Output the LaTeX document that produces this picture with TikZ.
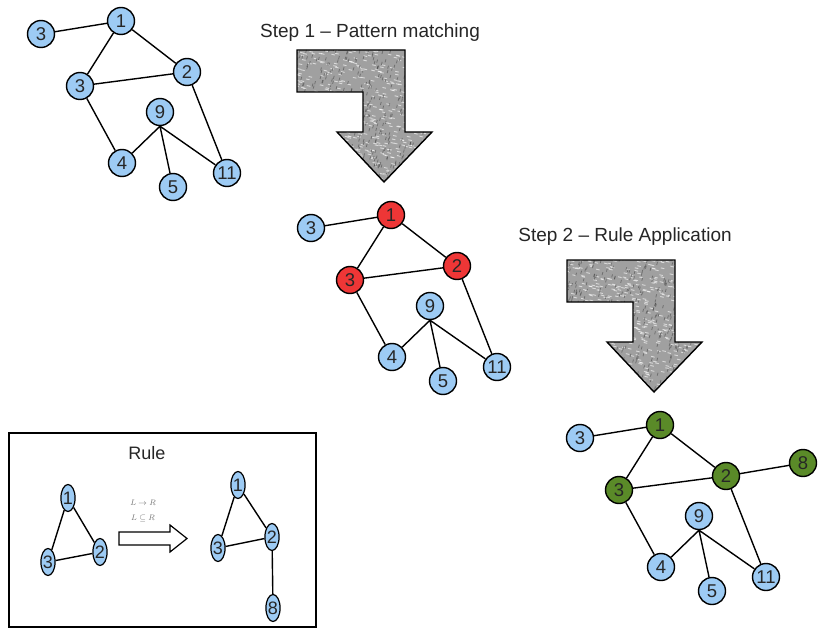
\documentclass[tikz,border=0pt]{standalone}
\usepackage{fontspec}
\setmainfont{Liberation Sans}
\usetikzlibrary{shapes.geometric}

\definecolor{vblue}{HTML}{9DCBF4}
\definecolor{vred}{HTML}{EE3636}
\definecolor{vgreen}{HTML}{5A8A28}
\definecolor{vtext}{HTML}{262626}
\definecolor{stepgray}{HTML}{A0A0A0}

\tikzset{
  vtx/.style={circle, draw=black, line width=1.4pt, fill=vblue, minimum size=27pt,
    inner sep=0pt, text=vtext, font=\fontsize{18.5}{18.5}\selectfont},
  matched/.style={fill=vred},
  applied/.style={fill=vgreen},
  edge/.style={draw=black, line width=1.4pt},
  rulevtx/.style={ellipse, draw=black, line width=1.2pt, fill=vblue, minimum width=14pt,
    minimum height=27pt, inner sep=0pt, text=vtext, font=\fontsize{18}{18}\selectfont},
  caption/.style={font=\fontsize{19}{22}\selectfont, text=vtext},
  stepshape/.style={draw=black, line width=1.4pt, line join=miter}
}

% one graph; #1 is the style of the three highlighted vertices
\newcommand\netgraph[1]{%
  \node[vtx] (a3) at (41,34) {3};
  \node[vtx,#1] (a1) at (121,21) {1};
  \node[vtx,#1] (b3) at (80,86) {3};
  \node[vtx,#1] (a2) at (187,72) {2};
  \node[vtx] (a9) at (160,112) {9};
  \node[vtx] (a4) at (122,163) {4};
  \node[vtx] (a5) at (173,187) {5};
  \node[vtx] (a11) at (227,173) {11};
  \draw[edge] (a3) -- (a1) (a1) -- (b3) (a1) -- (a2) (b3) -- (a2) (b3) -- (a4)
    (a2) -- (a11) (a9.south) -- (a4) (a9.south) -- (a5) (a9.south) -- (a11);
}

% bent block arrow with a grainy grey fill
\def\stepoutline{(297,50) -- (405,50) -- (405,132) -- (432,132) -- (384,182) -- (337,132) -- (363,132) -- (363,92) -- (297,92) -- cycle}
\newcommand\steparrow[1]{%
  \begin{scope}
    \pgfmathsetseed{#1}
    \clip \stepoutline;
    \fill[stepgray] (290,45) rectangle (440,190);
    \foreach \k in {1,...,550}{
      \pgfmathsetmacro\xx{295+140*rnd}
      \pgfmathsetmacro\yy{48+136*rnd}
      \draw[white, opacity=0.6, line width=0.9pt] (\xx,\yy) -- ++(3.5,0.8);
    }
    \foreach \k in {1,...,450}{
      \pgfmathsetmacro\xx{295+140*rnd}
      \pgfmathsetmacro\yy{48+136*rnd}
      \draw[black!75, opacity=0.5, line width=0.8pt] (\xx,\yy) -- ++(0.8,-3);
    }
  \end{scope}
  \draw[stepshape] \stepoutline;
}

\begin{document}
\begin{tikzpicture}[x=1pt, y=-1pt]
  \useasboundingbox (0,0) rectangle (818,628);
  \fill[white] (0,0) rectangle (818,628);

  % input graph
  \begin{scope}[name prefix=in-]
    \netgraph{}
  \end{scope}

  % step 1
  \node[caption] (cap1) at (370,33) {Step 1 – Pattern matching};
  \steparrow{3}

  % matched graph
  \begin{scope}[shift={(270,194)}, name prefix=mt-]
    \netgraph{matched}
  \end{scope}

  % step 2
  \node[caption] (cap2) at (625,237) {Step 2 – Rule Application};
  \begin{scope}[shift={(270,210)}]
    \steparrow{11}
  \end{scope}

  % rewritten graph
  \begin{scope}[shift={(539,404)}, name prefix=out-]
    \netgraph{applied}
    \node[vtx,applied] (a8) at (264,59) {8};
    \draw[edge] (a2) -- (a8);
  \end{scope}

  % rule box
  \draw[line width=1.3pt] (9,433) rectangle (316,627);
  \node[font=\fontsize{18}{20}\selectfont, text=vtext] (rulecap) at (147,453) {Rule};

  \node[rulevtx] (l1) at (68,498) {1};
  \node[rulevtx] (l3) at (48,562) {3};
  \node[rulevtx] (l2) at (100,552) {2};
  \draw[edge] (l1) -- (l3) (l1) -- (l2) (l3) -- (l2);

  \node[rulevtx] (r1) at (238,485) {1};
  \node[rulevtx] (r3) at (218,548) {3};
  \node[rulevtx] (r2) at (272,537) {2};
  \node[rulevtx] (r8) at (273,608) {8};
  \draw[edge] (r1) -- (r3) (r1) -- (r2) (r3) -- (r2) (r2) -- (r8);

  \node[text=black!55, font=\fontsize{8.5}{9}\selectfont] (lab1) at (143,503) {$L\rightarrow R$};
  \node[text=black!55, font=\fontsize{8.5}{9}\selectfont] (lab2) at (143,518) {$L\subseteq R$};
  \draw[line width=1.2pt, fill=white, line join=miter]
    (119,532) -- (170,532) -- (170,525) -- (187,538.5) -- (170,552) -- (170,545) -- (119,545) -- cycle;
\end{tikzpicture}
\end{document}
